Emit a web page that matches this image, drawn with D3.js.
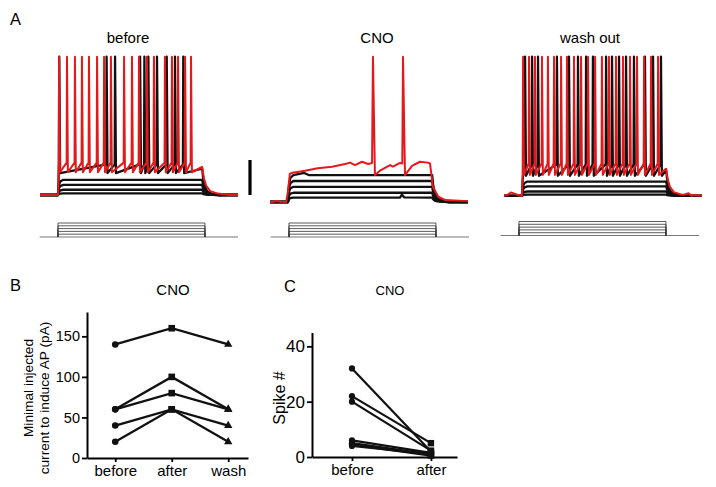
<!DOCTYPE html>
<html><head><meta charset="utf-8">
<script src="https://cdn.jsdelivr.net/npm/d3@7"></script>
<style>
body{margin:0;background:#fff}
text{font-family:"Liberation Sans",Arial,sans-serif;fill:#000}
</style></head>
<body><svg id="c" width="716" height="487"></svg>
<script>
// ---------------- Panel A data (ms / mV / pA) ----------------
const stepStart = 100, stepEnd = 900, sweepEnd = 1100, protoEnd = 1080;
const stepCurrents = [20, 40, 60, 80, 100];
const spikePeak = 9;

// before
const beforeBase = -70;
const beforeSubLevels = [-61.3, -64.2, -67, -69.1];
const beforeBlackSpikes = [107, 370, 417, 556, 580, 602, 650, 704, 750, 796];
const beforeRedSpikes = [106, 150, 194, 233, 272, 317, 356, 394, 467, 511, 550, 594, 633, 694, 733, 767, 806, 839];

// CNO
const cnoBase = -74;
const cnoBlackLevels = [-58.6, -62, -65.3, -68.7, -71.5];
const cnoRedPoints = [[0,-74.2],[40,-73.4],[60,-73.8],[90,-74],[100,-68],[110,-58],[125,-57.3],[195,-56.1],[265,-54.7],[345,-53.8],[417,-52.3],[445,-51.5],[472,-52.9],[511,-51],[545,-52.3],[567,-51.7],[583,-58.6],[611,-56.1],[667,-52.9],[683,-53.8],[722,-51.7],[735,-52],[750,-58.6],[789,-53.3],[833,-51],[878,-51.5],[889,-52],[905,-65.3],[935,-71],[975,-72.9],[1100,-73.5]];
const cnoRedSpikes = [572, 739];

// wash out
const washBase = -70.5;
const washSubLevels = [-62.3, -65.1, -68, -69.8];
const washBlackSpikes = [117, 156, 189, 294, 361, 411, 456, 494, 567, 600, 639, 678, 722, 783, 828, 872];
const washRedSpikes = [106, 139, 172, 211, 244, 278, 317, 350, 389, 428, 467, 506, 544, 583, 622, 661, 700, 739, 778, 817, 856];
const washRedPre = [[0,-70.5],[20,-69.9],[38,-68.6],[58,-69.2],[85,-70.3]];
const washRedPost = [[1000,-69.8],[1025,-69.0],[1045,-70.0],[1100,-70.4]];

// ---------------- Panel B data ----------------
const bCategories = ["before", "after", "wash"];
const bTicks = [0, 50, 100, 150];
const bSeries = [[140,160,140],[60,100,60],[60,80,60],[40,60,40],[20,60,20]];

// ---------------- Panel C data ----------------
const cCategories = ["before", "after"];
const cTicks = [0, 20, 40];
const cBefore = [32, 22, 20, 6, 5, 4.5, 4];
const cAfter  = [2, 5, 2.3, 1.5, 1, 0.5, 1];

// ---------------- drawing ----------------
const svg = d3.select("#c");
const RED = "#e3191c", BLK = "#111";
const riseShape = [[0,0],[3,0.45],[7,0.72],[14,0.9],[30,1]];
const decayShape = [[0,1],[6,0.6],[14,0.33],[28,0.14],[55,0.05],[95,0]];

const yA = d3.scaleLinear().domain([-70, -50]).range([195, 160]);

function buildTrace(o) {
  const pts = (o.pre || [[0, o.base]]).slice();
  pts.push([stepStart, o.base]);
  const sp = o.spikes || [];
  const riseLimit = sp.length ? sp[0] - 2 : Infinity;
  riseShape.forEach(([dt, f]) => { const t = stepStart + dt; if (t < riseLimit) pts.push([t, o.base + f * (o.level - o.base)]); });
  (o.plateau || []).forEach(p => pts.push(p));
  sp.forEach(ts => pts.push([ts - 2, o.thresh], [ts, spikePeak], [ts + 5, o.trough]));
  const endV = o.endLevel ?? o.level;
  pts.push([stepEnd, endV]);
  const k = o.tail || 1;
  decayShape.forEach(([dt, f]) => pts.push([stepEnd + 1 + dt * k, o.base + f * (endV - o.base)]));
  (o.post || [[sweepEnd, o.base]]).forEach(p => pts.push(p));
  pts.sort((a, b) => a[0] - b[0]);
  return pts;
}

const panelsA = [
  {title: "before", tx: 128, x0: 40, px0: 39.6, pBase: 237,
   traces: [
     ...beforeSubLevels.map(l => ({base: beforeBase, level: l, color: BLK})),
     {base: beforeBase, level: -52.5, thresh: -52.5, trough: -57.5, endLevel: -55, spikes: beforeBlackSpikes, color: BLK},
     {base: beforeBase, level: -51.5, thresh: -51.5, trough: -57, endLevel: -54, spikes: beforeRedSpikes, color: RED, tail: 1.6}
   ]},
  {title: "CNO", tx: 377, x0: 270, px0: 270.6, pBase: 237,
   traces: [
     ...cnoBlackLevels.map((l, i) => ({base: cnoBase, level: l, color: BLK,
        plateau: i === 0 ? [[190,-57.4],[215,-58.6]] : (i === 4 ? [[722,-71.5],[733,-69.8],[745,-71.3]] : [])})),
     {points: cnoRedPoints.concat(cnoRedSpikes.map(t => [t, spikePeak])).sort((a,b)=>a[0]-b[0]), color: RED}
   ]},
  {title: "wash out", tx: 590, x0: 504, px0: 500.6, pBase: 235.5,
   traces: [
     ...washSubLevels.map(l => ({base: washBase, level: l, color: BLK})),
     {base: washBase, level: -52.5, thresh: -52.5, trough: -59, endLevel: -56, spikes: washBlackSpikes, color: BLK},
     {base: washBase, level: -52, thresh: -52, trough: -58.5, endLevel: -55, spikes: washRedSpikes, color: RED, tail: 1.5,
      pre: washRedPre, post: washRedPost}
   ]}
];

panelsA.forEach(p => {
  const x = d3.scaleLinear().domain([0, sweepEnd]).range([p.x0, p.x0 + 198]);
  const line = d3.line().x(d => x(d[0])).y(d => yA(d[1]));
  const g = svg.append("g");
  p.traces.forEach(t => {
    const pts = t.points || buildTrace(t);
    g.append("path").attr("d", line(pts)).attr("fill", "none")
      .attr("stroke", t.color).attr("stroke-width", t.color === RED ? 2 : 2.3)
      .attr("stroke-linejoin", "round");
  });
  svg.append("text").attr("x", p.tx).attr("y", 43).attr("text-anchor", "middle")
    .style("font-size", "15px").text(p.title);
  // stimulus protocol
  const px = d3.scaleLinear().domain([0, protoEnd]).range([p.px0, p.px0 + protoEnd * 0.18375]);
  const py = d3.scaleLinear().domain([0, 100]).range([p.pBase, p.pBase - 14]);
  const pline = d3.line().x(d => px(d[0])).y(d => py(d[1]));
  svg.append("path").attr("d", pline([[0,0],[protoEnd,0]]))
    .attr("fill", "none").attr("stroke", "#777").attr("stroke-width", 1.1);
  stepCurrents.forEach(c => {
    svg.append("path").attr("d", pline([[stepStart,0],[stepStart,c],[stepEnd,c],[stepEnd,0]]))
      .attr("fill", "none").attr("stroke", "#333").attr("stroke-width", 0.8);
  });
});
// scale bar (20 mV)
svg.append("line").attr("x1", 250).attr("x2", 250).attr("y1", yA(-70)).attr("y2", yA(-50))
  .attr("stroke", "#000").attr("stroke-width", 3.2);

// panel letters
[["A", 10, 25], ["B", 10, 291], ["C", 284, 292]].forEach(([t, x, y]) =>
  svg.append("text").attr("x", x).attr("y", y).style("font-size", "16.5px").text(t));

// ---------------- Panel B ----------------
const yB = d3.scaleLinear().domain([0, 180]).range([458, 312]);
const xB = d3.scaleLinear().domain([-0.5, 2.35]).range([87, 248]);
const gB = svg.append("g");
const axLB = gB.append("g").attr("transform", "translate(87,0)")
  .call(d3.axisLeft(yB).tickValues(bTicks).tickSize(5).tickSizeOuter(0).tickPadding(2));
axLB.selectAll("text").style("font-size", "14.5px").attr("font-family", null);
const axBB = gB.append("g").attr("transform", "translate(0,458)")
  .call(d3.axisBottom(xB).tickValues([0,1,2]).tickFormat(i => bCategories[i]).tickSize(4).tickSizeOuter(0).tickPadding(3.3));
axBB.selectAll("text").style("font-size", "15px").attr("font-family", null);
[axLB, axBB].forEach(a => { a.select(".domain").attr("stroke-width", 2); a.selectAll(".tick line").attr("stroke-width", 1.8); });

const lineB = d3.line().x((d, i) => xB(i)).y(d => yB(d));
bSeries.forEach(s => {
  gB.append("path").attr("d", lineB(s)).attr("fill", "none").attr("stroke", BLK).attr("stroke-width", 2.3);
  gB.append("circle").attr("cx", xB(0)).attr("cy", yB(s[0])).attr("r", 3.3).attr("fill", BLK);
  gB.append("rect").attr("x", xB(1) - 3.3).attr("y", yB(s[1]) - 3.3).attr("width", 6.6).attr("height", 6.6).attr("fill", BLK);
  gB.append("path").attr("d", d3.symbol(d3.symbolTriangle, 30)()).attr("transform", `translate(${xB(2)},${yB(s[2])})`).attr("fill", BLK);
});
gB.append("text").attr("x", 173).attr("y", 295).attr("text-anchor", "middle").style("font-size", "15px").text("CNO");
gB.append("text").attr("transform", "translate(33,388) rotate(-90)").attr("text-anchor", "middle").style("font-size", "13.7px").text("Minimal injected");
gB.append("text").attr("transform", "translate(49.3,398) rotate(-90)").attr("text-anchor", "middle").style("font-size", "13.7px").text("current to induce AP (pA)");

// ---------------- Panel C ----------------
const yC = d3.scaleLinear().domain([0, 45]).range([457, 332.5]);
const xC = d3.scaleLinear().domain([-0.506, 1.33]).range([312, 457]);
const gC = svg.append("g");
const axLC = gC.append("g").attr("transform", "translate(312,0)")
  .call(d3.axisLeft(yC).tickValues(cTicks).tickSize(5).tickSizeOuter(0).tickPadding(2));
axLC.selectAll("text").style("font-size", "17px").attr("font-family", null);
const axBC = gC.append("g").attr("transform", "translate(0,457)")
  .call(d3.axisBottom(xC).tickValues([0,1]).tickFormat(i => cCategories[i]).tickSize(4).tickSizeOuter(0).tickPadding(3.3));
axBC.selectAll("text").style("font-size", "15px").attr("font-family", null);
[axLC, axBC].forEach(a => { a.select(".domain").attr("stroke-width", 2); a.selectAll(".tick line").attr("stroke-width", 1.8); });

cBefore.forEach((b, i) => {
  const a = cAfter[i];
  gC.append("line").attr("x1", xC(0)).attr("y1", yC(b)).attr("x2", xC(1)).attr("y2", yC(a))
    .attr("stroke", BLK).attr("stroke-width", 2.2);
  gC.append("circle").attr("cx", xC(0)).attr("cy", yC(b)).attr("r", 3.1).attr("fill", BLK);
  gC.append("rect").attr("x", xC(1) - 3.2).attr("y", yC(a) - 3.2).attr("width", 6.4).attr("height", 6.4).attr("fill", BLK);
});
gC.append("text").attr("x", 390).attr("y", 295).attr("text-anchor", "middle").style("font-size", "13px").text("CNO");
gC.append("text").attr("transform", "translate(285,398) rotate(-90)").attr("text-anchor", "middle").style("font-size", "16px").text("Spike #");
</script></body></html>
